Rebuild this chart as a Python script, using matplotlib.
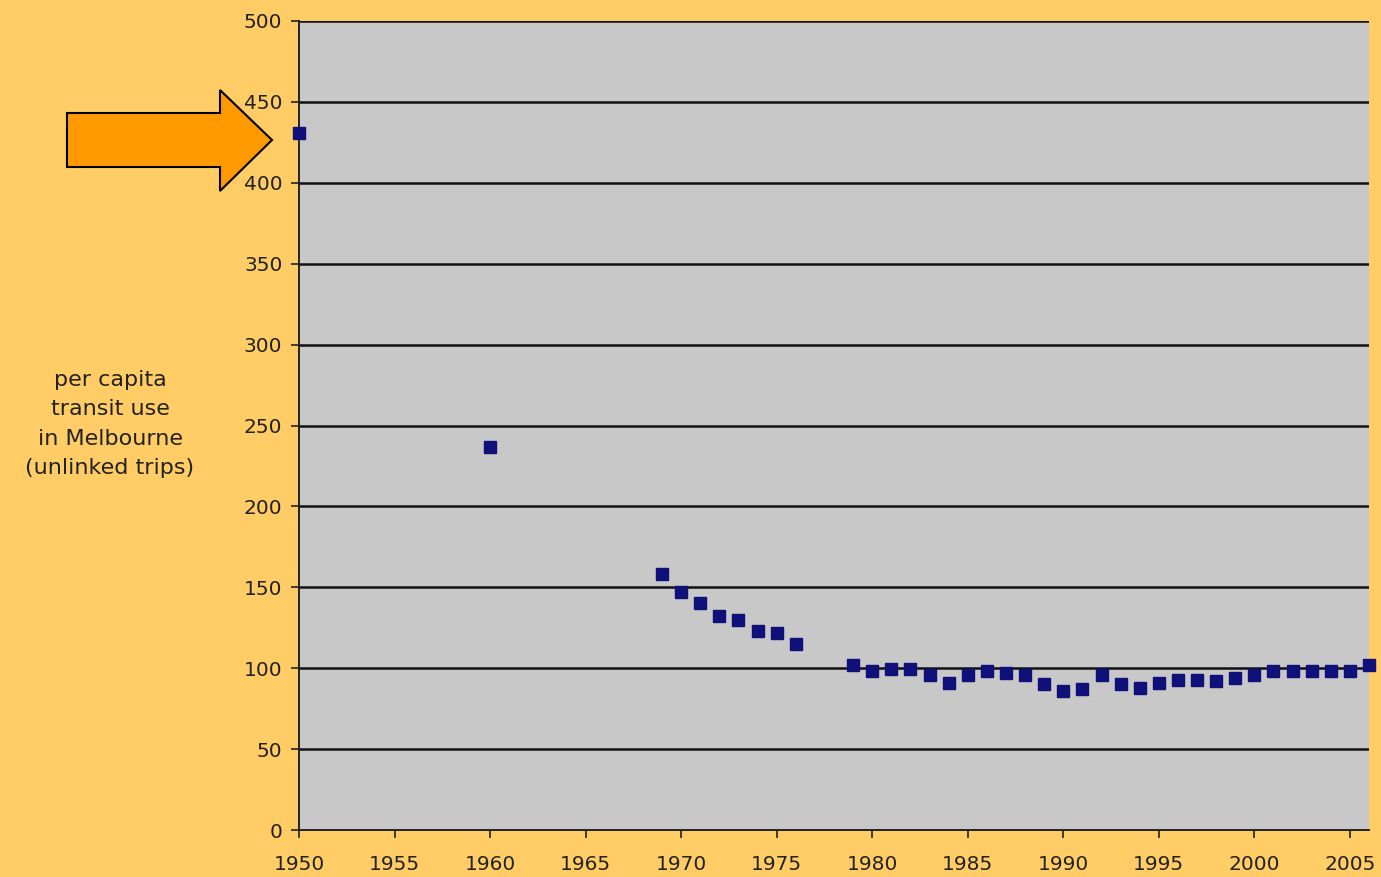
import numpy as np
import matplotlib.pyplot as plt
from matplotlib.patches import Polygon

# per capita transit use in Melbourne
years = [1950, 1960, 1969, 1970, 1971, 1972, 1973, 1974, 1975, 1976,
         1979, 1980, 1981, 1982, 1983, 1984, 1985, 1986, 1987, 1988,
         1989, 1990, 1991, 1992, 1993, 1994, 1995, 1996, 1997, 1998,
         1999, 2000, 2001, 2002, 2003, 2004, 2005, 2006]
trips = [431, 237, 158, 147, 140, 132, 130, 123, 122, 115,
         102, 98, 99.5, 99.5, 96, 91, 96, 98, 97, 96,
         90, 86, 87, 96, 90, 88, 91, 93, 93, 92,
         94, 96, 98, 98, 98, 98, 98, 102]
xticks = [1950, 1955, 1960, 1965, 1970, 1975, 1980, 1985, 1990, 1995, 2000, 2005]
yticks = [0, 50, 100, 150, 200, 250, 300, 350, 400, 450, 500]

plt.rcParams['font.family'] = ['DejaVu Sans']

W, H = 1381, 877
fig = plt.figure(figsize=(W / 100, H / 100), dpi=100, facecolor='#FFCC66')
ax = fig.add_axes([299 / W, 1 - 830 / H, (1369 - 299) / W, (830 - 21) / H])
ax.set_facecolor('#C8C8C8')

for yv in yticks[1:]:
    ax.axhline(yv, color='#111111', lw=1.8, zorder=1)

ax.plot(years, trips, 's', color='#10107A', markersize=8, zorder=3, clip_on=False)

ax.set_xlim(1950, 2006)
ax.set_ylim(0, 500)
ax.set_xticks(xticks)
ax.set_yticks(yticks)
ax.tick_params(axis='both', direction='out', length=6, width=1.2,
               labelsize=14.5, colors='#222222', pad=6)
ax.tick_params(axis='x', pad=12)
for s in ['top', 'right']:
    ax.spines[s].set_visible(False)
for s in ['left', 'bottom']:
    ax.spines[s].set_color('#222222')
    ax.spines[s].set_linewidth(1.4)

fig.text(110 / W, 1 - 424 / H,
         "per capita\ntransit use\nin Melbourne\n(unlinked trips)",
         ha='center', va='center', fontsize=16, color='#222222',
         linespacing=1.6)

# orange arrow pointing at the 1950 value
pts = [(67, 113), (220, 113), (220, 90), (272, 140), (220, 191), (220, 167), (67, 167)]
arrow = Polygon([(x / W, 1 - y / H) for x, y in pts], closed=True,
                transform=fig.transFigure, facecolor='#FF9900',
                edgecolor='black', lw=1.5, zorder=5)
fig.patches.append(arrow)

plt.savefig('out.png', dpi=100, facecolor=fig.get_facecolor())
